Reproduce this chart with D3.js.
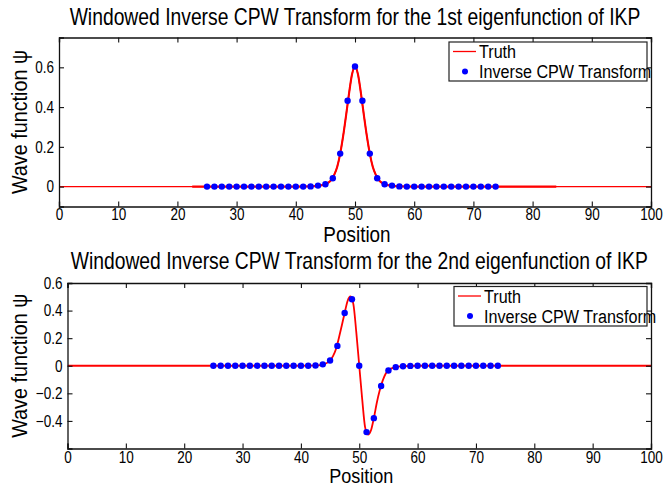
<!DOCTYPE html>
<html><head><meta charset="utf-8">
<script src="https://cdn.jsdelivr.net/npm/d3@7"></script>
<style>
body{margin:0;background:#fff;}
svg{display:block;font-family:"Liberation Sans",Arial,Helvetica,sans-serif;}
</style></head>
<body>
<script>
// ---------- data ----------
const xTicks = [0,10,20,30,40,50,60,70,80,90,100];
const yTicks1 = [0,0.2,0.4,0.6];
const yTickLabels1 = ["0","0.2","0.4","0.6"];
const yTicks2 = [-0.4,-0.2,0,0.2,0.4,0.6];
const yTickLabels2 = ["\u22120.4","\u22120.2","0","0.2","0.4","0.6"];

// sample positions of inverse transform
const cpwX = [25,26.25,27.5,28.75,30,31.25,32.5,33.75,35,36.25,37.5,38.75,40,41.25,42.5,43.75,45,46.25,47.5,48.75,
              50,51.25,52.5,53.75,55,56.25,57.5,58.75,60,61.25,62.5,63.75,65,66.25,67.5,68.75,70,71.25,72.5,73.75];
const cpwY1 = [0,0,0,0,0,0,0,0,0,0,0,0,0,0,0.001,0.005,0.012,0.042,0.166,0.432,
               0.604,0.432,0.166,0.042,0.012,0.005,0.001,0,0,0,0,0,0,0,0,0,0,0,0,0];
const cpwY2 = [0,0,0,0,0,0,0,0,0,0,0,0,0,0,0.002,0.01,0.038,0.144,0.383,0.482,
               0,-0.481,-0.38,-0.147,-0.034,-0.01,-0.004,-0.001,0,0,0,0,0,0,0,0,0,0,0,0];

// truth curves
const truthX1 = [0,22.5,40,43,44,45,45.5,46,46.5,47,47.5,48,48.5,49,49.5,50,50.5,51,51.5,52,52.5,53,53.5,54,54.5,55,56,57,60,84,100];
const truthY1 = [0,0,0,0.002,0.005,0.012,0.02,0.034,0.06,0.1,0.166,0.255,0.36,0.47,0.565,0.604,0.565,0.47,0.36,0.255,0.166,0.1,0.06,0.034,0.02,0.012,0.005,0.002,0,0,0];
const truthX2 = [0,40,43,44,45,45.5,46,46.5,47,47.5,48,48.5,49,49.5,50,50.5,51,51.5,52,52.5,53,53.5,54,54.5,55,56,57,60,100];
const truthY2 = [0,0,0.003,0.012,0.038,0.07,0.12,0.2,0.29,0.383,0.47,0.502,0.445,0.24,0,-0.24,-0.445,-0.5,-0.47,-0.38,-0.27,-0.18,-0.11,-0.06,-0.034,-0.012,-0.004,0,0];

const W = 665, H = 487;
const svg = d3.select("body").append("svg").attr("width",W).attr("height",H);

// condensed (Helvetica-narrow-like) text helper
function ctext(parent, x, y, str, size, sx, anchor, rot){
  const t = parent.append("g")
    .attr("transform",`translate(${x},${y})${rot?` rotate(${rot})`:""} scale(${sx},1)`)
    .append("text").attr("x",0).attr("y",0).attr("text-anchor",anchor||"start")
    .style("font-size",size+"px").attr("fill","#000").text(str);
  return t;
}

function panel(o){
  const g = svg.append("g");
  const x = d3.scaleLinear().domain([0,100]).range([o.left,o.right]);
  const y = d3.scaleLinear().domain(o.ydom).range([o.bottom,o.top]);
  const clipId = "clip"+o.id;
  svg.append("clipPath").attr("id",clipId).append("rect")
    .attr("x",o.left).attr("y",o.top).attr("width",o.right-o.left).attr("height",o.bottom-o.top);

  const plot = g.append("g").attr("clip-path",`url(#${clipId})`);
  const line = d3.line().x((d,i)=>x(o.tx[i])).y(d=>y(d)).curve(d3.curveMonotoneX);
  plot.append("path").attr("d",line(o.ty)).attr("fill","none").attr("stroke","#ff0000").attr("stroke-width",o.lw);
  if(o.thick){
    const idx = o.tx.map((v,i)=>i).filter(i=>o.tx[i]>=o.thick[0]&&o.tx[i]<=o.thick[1]);
    const l2 = d3.line().x(i=>x(o.tx[i])).y(i=>y(o.ty[i])).curve(d3.curveMonotoneX);
    plot.append("path").attr("d",l2(idx)).attr("fill","none").attr("stroke","#ff0000").attr("stroke-width",2.1);
  }
  plot.selectAll("circle").data(o.py).join("circle")
    .attr("cx",(d,i)=>x(cpwX[i])).attr("cy",d=>y(d)).attr("r",3.2).attr("fill","#0000ff");

  // axes with inward ticks
  const ax = (gen, tr) => g.append("g").attr("transform",tr).call(gen);
  const xb = ax(d3.axisBottom(x).tickValues(xTicks).tickSize(-5).tickPadding(o.xpad).tickFormat(d3.format("d")), `translate(0,${o.bottom})`);
  const xt = ax(d3.axisTop(x).tickValues(xTicks).tickSize(-5).tickFormat(""), `translate(0,${o.top})`);
  const yl = ax(d3.axisLeft(y).tickValues(o.yt).tickSize(-5).tickPadding(0).tickFormat((d,i)=>o.ytl[i]), `translate(${o.left},0)`);
  const yr = ax(d3.axisRight(y).tickValues(o.yt).tickSize(-5).tickFormat(""), `translate(${o.right},0)`);
  [xb,xt,yl,yr].forEach(a=>{
    a.select(".domain").attr("stroke","#111").attr("stroke-width",1.3);
    a.selectAll(".tick line").attr("stroke","#111").attr("stroke-width",1.1);
    a.selectAll("text").attr("fill","#000").style("font-size","16.5px");
  });
  xb.selectAll(".tick text").attr("transform","scale(0.82,1)");
  yl.selectAll(".tick text").attr("x",0).attr("transform","translate(-5,0) scale(0.82,1)");

  ctext(g,(o.left+o.right)/2,o.titleY,o.title,23,0.84,"middle");
  ctext(g,(o.left+o.right)/2+2,o.xlabY,"Position",o.xlabSize,0.86,"middle");
  ctext(g,27,(o.top+o.bottom)/2,"Wave function \u03c8",22,0.9,"middle",-90);

  // legend
  const L = o.leg;
  g.append("rect").attr("x",L.x).attr("y",L.y).attr("width",L.w).attr("height",L.h)
    .attr("fill","#fff").attr("stroke","#222").attr("stroke-width",1.2);
  g.append("line").attr("x1",L.x+4).attr("x2",L.x+27).attr("y1",L.y+9.5).attr("y2",L.y+9.5)
    .attr("stroke","#ff0000").attr("stroke-width",1.3);
  ctext(g,L.x+30,L.y+16,"Truth",19,0.85,"start");
  g.append("circle").attr("cx",L.x+16).attr("cy",L.y+29.5).attr("r",3).attr("fill","#0000ff");
  ctext(g,L.x+30,L.y+36,"Inverse CPW Transform",19,0.85,"start");
}

panel({id:1,left:59,right:651,top:37.5,bottom:206.5,ydom:[-0.1,0.75],yt:yTicks1,ytl:yTickLabels1,
  tx:truthX1,ty:truthY1,py:cpwY1,thick:[22.5,84],lw:1.4,xpad:2,xlabSize:22,
  title:"Windowed Inverse CPW Transform for the 1st eigenfunction of IKP",titleY:25,xlabY:242,
  leg:{x:449,y:42,w:198,h:39}});
panel({id:2,left:67.5,right:651,top:283,bottom:448.5,ydom:[-0.6,0.6],yt:yTicks2,ytl:yTickLabels2,
  tx:truthX2,ty:truthY2,py:cpwY2,lw:1.8,xpad:3,xlabSize:21,
  title:"Windowed Inverse CPW Transform for the 2nd eigenfunction of IKP",titleY:269,xlabY:483,
  leg:{x:454,y:286.5,w:193,h:39.5}});
</script>
</body></html>
